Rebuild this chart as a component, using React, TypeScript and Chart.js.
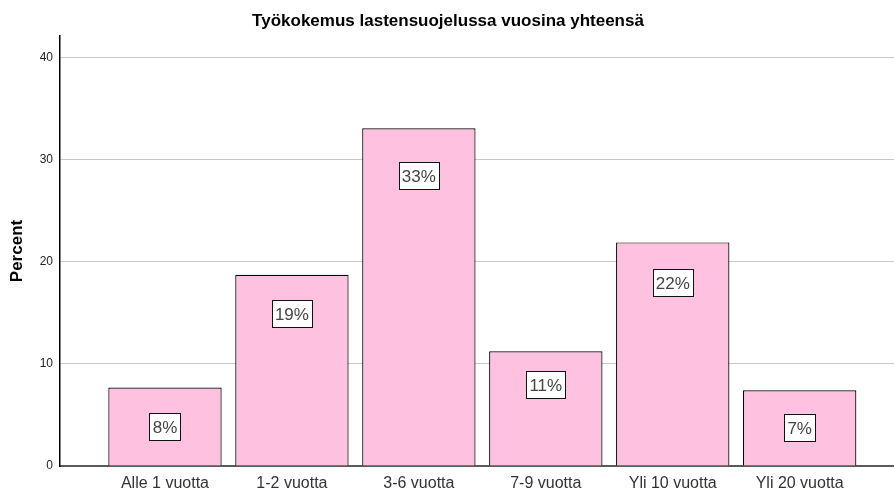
import React, { useEffect, useRef } from "react";
import { Chart, registerables } from "chart.js";

Chart.register(...registerables);

const TITLE = "Työkokemus lastensuojelussa vuosina yhteensä";
const Y_TITLE = "Percent";
const categories = ["Alle 1 vuotta", "1-2 vuotta", "3-6 vuotta", "7-9 vuotta", "Yli 10 vuotta", "Yli 20 vuotta"];
const percentValues = [7.68, 18.71, 33.05, 11.23, 21.88, 7.41];
const barLabels = ["8%", "19%", "33%", "11%", "22%", "7%"];
const yTicks = [0, 10, 20, 30, 40];

const FONT = "Arial, 'Liberation Sans', sans-serif";

const titlePlugin = {
  id: "topTitle",
  afterDraw(chart: any) {
    const ctx = chart.ctx;
    ctx.save();
    ctx.font = `bold 17px ${FONT}`;
    ctx.fillStyle = "#000";
    ctx.textAlign = "center";
    ctx.textBaseline = "middle";
    ctx.fillText(TITLE, 448, 21);
    ctx.restore();
  },
};

const boxLabelPlugin = {
  id: "boxLabels",
  afterDatasetsDraw(chart: any) {
    const ctx = chart.ctx;
    const meta = chart.getDatasetMeta(0);
    ctx.save();
    ctx.font = `17px ${FONT}`;
    meta.data.forEach((bar: any, i: number) => {
      const text = barLabels[i];
      const v = percentValues[i];
      const top = bar.y;
      const base = bar.base;
      const h = base - top;
      const cy = h < 100 ? (top + base) / 2 : top + 27 + 0.6 * v;
      const w = Math.round(ctx.measureText(text).width) + 6;
      const bh = 27;
      const x0 = Math.round(bar.x - w / 2) + 0.5;
      const y0 = Math.round(cy - bh / 2) + 0.5;
      ctx.fillStyle = "#ffffff";
      ctx.fillRect(x0, y0, w, bh);
      ctx.strokeStyle = "#111";
      ctx.lineWidth = 1;
      ctx.strokeRect(x0, y0, w, bh);
      ctx.fillStyle = "#444";
      ctx.textAlign = "center";
      ctx.textBaseline = "middle";
      ctx.fillText(text, bar.x, y0 + bh / 2 + 1);
    });
    ctx.restore();
  },
};

export default function App() {
  const ref = useRef<HTMLCanvasElement | null>(null);
  useEffect(() => {
    document.body.style.margin = "0";
    const canvas = ref.current!;
    const chart = new Chart(canvas, {
      type: "bar",
      data: {
        datasets: [
          {
            data: percentValues.map((v, i) => ({ x: i, y: v })),
            backgroundColor: "#fec1e0",
            borderColor: "#000000",
            borderWidth: 1.2,
            categoryPercentage: 1,
            barPercentage: 0.893,
          },
        ],
      },
      options: {
        responsive: false,
        animation: false,
        devicePixelRatio: 1,
        layout: { padding: { top: 36, left: 0, right: 0, bottom: 0 } },
        plugins: { legend: { display: false }, tooltip: { enabled: false }, title: { display: false } },
        scales: {
          x: {
            type: "linear",
            offset: false,
            min: -0.827,
            max: 5.743,
            grid: { display: false, drawTicks: false, offset: false },
            border: { display: true, color: "#5a5a5a", width: 2 },
            afterBuildTicks: (scale: any) => {
              scale.ticks = categories.map((_, i) => ({ value: i }));
            },
            afterFit: (scale: any) => {
              scale.height = 24;
            },
            ticks: {
              autoSkip: false,
              maxRotation: 0,
              minRotation: 0,
              padding: 8,
              color: "#333",
              font: { family: FONT, size: 16 },
              callback: (v: any) => categories[Math.round(Number(v))] ?? "",
            },
          },
          y: {
            type: "linear",
            min: 0,
            max: 42.08,
            afterBuildTicks: (scale: any) => {
              scale.ticks = yTicks.map((v) => ({ value: v }));
            },
            afterFit: (scale: any) => {
              scale.width = 60;
            },
            grid: { color: "#c8c8c8", drawTicks: false, lineWidth: 1 },
            border: { display: true, color: "#000", width: 1.5 },
            ticks: {
              padding: 7,
              color: "#222",
              font: { family: FONT, size: 12 },
            },
            title: {
              display: true,
              text: Y_TITLE,
              color: "#000",
              font: { family: FONT, size: 17, weight: "bold" },
              padding: { top: 7, bottom: 0 },
            },
          },
        },
      },
      plugins: [titlePlugin, boxLabelPlugin],
    } as any);
    return () => chart.destroy();
  }, []);
  return (
    <div style={{ position: "fixed", left: 0, top: 0, width: 894, height: 490, background: "#fff" }}>
      <canvas ref={ref} width={894} height={490} />
    </div>
  );
}
